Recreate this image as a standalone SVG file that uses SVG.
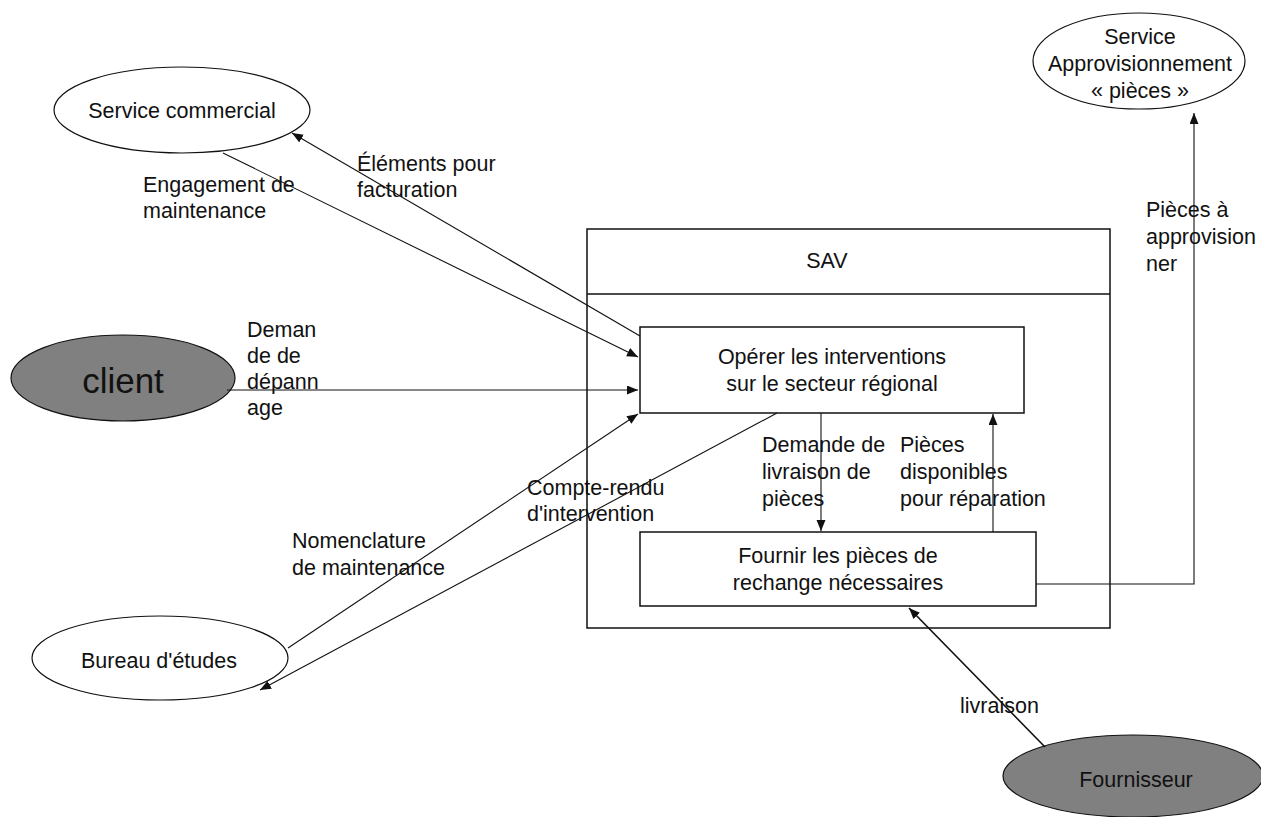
<svg xmlns="http://www.w3.org/2000/svg" width="1261" height="817" viewBox="0 0 1261 817">
  <style>
    text { font-family: "Liberation Sans", Arial, sans-serif; font-size: 21.5px; fill: #111; }
    .c { text-anchor: middle; }
    .big { font-size: 35px; }
    .shape { fill: #fff; stroke: #111; stroke-width: 1.2; }
    .dark { fill: #808080; stroke: #111; stroke-width: 1.2; }
    .box { fill: none; stroke: #111; stroke-width: 1.5; }
    .flow { fill: none; stroke: #111; stroke-width: 1.1; marker-end: url(#arrow); }
  </style>
  <defs>
    <marker id="arrow" markerUnits="userSpaceOnUse" markerWidth="12" markerHeight="10" refX="11" refY="4.5" orient="auto">
      <path d="M0,0 L11,4.5 L0,9 z" fill="#111"/>
    </marker>
  </defs>

  <rect width="1261" height="817" fill="#fff"/>

  <!-- external actors -->
  <g id="service-commercial">
    <ellipse class="shape" cx="182" cy="110" rx="128" ry="43"/>
    <text class="c" x="182" y="118">Service commercial</text>
  </g>
  <g id="client">
    <ellipse class="dark" cx="123" cy="378" rx="112" ry="43"/>
    <text class="c big" x="123" y="393">client</text>
  </g>
  <g id="bureau-etudes">
    <ellipse class="shape" cx="160" cy="658" rx="128" ry="42"/>
    <text class="c" x="159" y="668">Bureau d'études</text>
  </g>
  <g id="service-appro">
    <ellipse class="shape" cx="1139" cy="61" rx="106" ry="48"/>
    <text class="c" x="1140" y="44">Service</text>
    <text class="c" x="1140" y="71">Approvisionnement</text>
    <text class="c" x="1140" y="98">« pièces »</text>
  </g>
  <g id="fournisseur">
    <ellipse class="dark" cx="1133" cy="776" rx="130" ry="41"/>
    <text class="c" x="1136" y="787">Fournisseur</text>
  </g>

  <!-- SAV container with its two processes -->
  <g id="sav">
    <rect class="box" x="587" y="229" width="523" height="399"/>
    <line class="box" x1="587" y1="294" x2="1110" y2="294"/>
    <text class="c" x="827" y="268">SAV</text>
  </g>
  <g id="operer">
    <rect class="box" x="640" y="327" width="384" height="86"/>
    <text class="c" x="832" y="364">Opérer les interventions</text>
    <text class="c" x="832" y="391">sur le secteur régional</text>
  </g>
  <g id="fournir">
    <rect class="box" x="640" y="532" width="396" height="74"/>
    <text class="c" x="838" y="563">Fournir les pièces de</text>
    <text class="c" x="838" y="590">rechange nécessaires</text>
  </g>

  <!-- flows -->
  <g id="connectors">
    <path class="flow" d="M640,336 L292,133"/>
    <path class="flow" d="M223,153 L638,357"/>
    <path class="flow" d="M227,390 L638,390"/>
    <path class="flow" d="M288,648 L638,414"/>
    <path class="flow" d="M777,413 L260,690"/>
    <path class="flow" d="M821,413 L821,531"/>
    <path class="flow" d="M993,532 L993,414"/>
    <path class="flow" d="M1036,584 H1194 V113"/>
    <path class="flow" style="stroke-width:1.6" d="M1045,747 L909,608"/>
  </g>

  <!-- flow labels -->
  <g id="labels">
    <text x="357" y="171">Éléments pour</text>
    <text x="357" y="197">facturation</text>
    <text x="143" y="192">Engagement de</text>
    <text x="143" y="218">maintenance</text>
    <text x="247" y="337">Deman</text>
    <text x="247" y="363">de de</text>
    <text x="247" y="389">dépann</text>
    <text x="247" y="415">age</text>
    <text x="292" y="548">Nomenclature</text>
    <text x="292" y="575">de maintenance</text>
    <text x="527" y="495">Compte-rendu</text>
    <text x="527" y="521">d'intervention</text>
    <text x="762" y="452">Demande de</text>
    <text x="762" y="479">livraison de</text>
    <text x="762" y="506">pièces</text>
    <text x="900" y="452">Pièces</text>
    <text x="900" y="479">disponibles</text>
    <text x="900" y="506">pour réparation</text>
    <text x="1146" y="217">Pièces à</text>
    <text x="1146" y="244">approvision</text>
    <text x="1146" y="271">ner</text>
    <text x="960" y="713">livraison</text>
  </g>
</svg>
